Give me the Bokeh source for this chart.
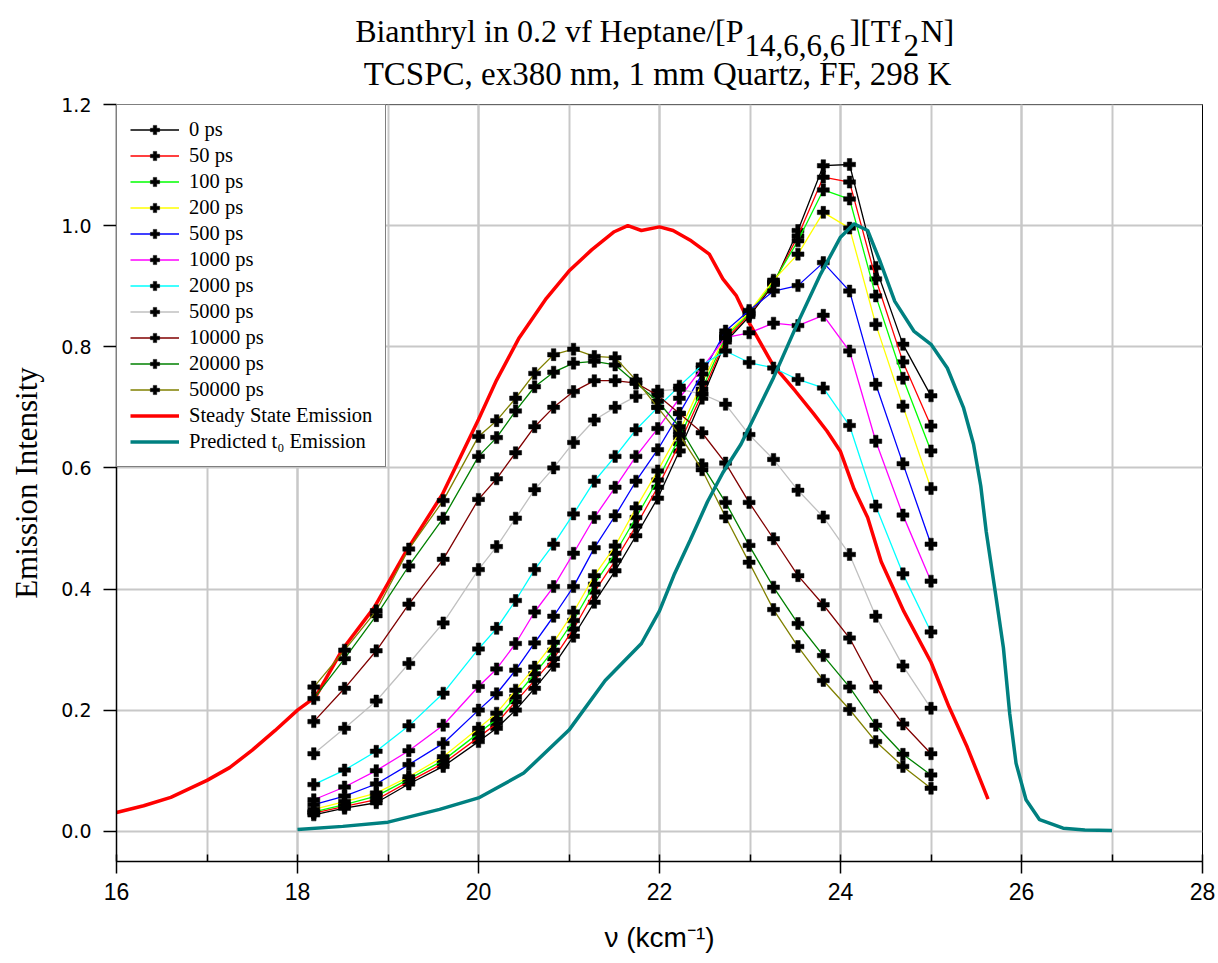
from bokeh.plotting import figure
from bokeh.layouts import column
from bokeh.models import (Range1d, SingleIntervalTicker, PrintfTickFormatter,
                          Legend, LegendItem)
from bokeh.core.properties import value
from bokeh.embed import file_html
from bokeh.resources import INLINE

# ---------------- data ----------------
wavenumber = [18.18, 18.52, 18.87, 19.23, 19.61, 20.00, 20.20, 20.41, 20.62, 20.83,
              21.05, 21.28, 21.51, 21.74, 21.98, 22.22, 22.47, 22.73, 22.99, 23.26,
              23.53, 23.81, 24.10, 24.39, 24.69, 25.00]

em_0 = [0.027, 0.038, 0.047, 0.078, 0.107, 0.148, 0.170, 0.200, 0.236, 0.274,
        0.322, 0.378, 0.430, 0.488, 0.550, 0.628, 0.715, 0.808, 0.850, 0.903,
        0.992, 1.099, 1.101, 0.931, 0.804, 0.719]
em_50 = [0.030, 0.041, 0.052, 0.082, 0.112, 0.155, 0.178, 0.214, 0.249, 0.285,
         0.334, 0.395, 0.447, 0.504, 0.568, 0.640, 0.722, 0.812, 0.853, 0.905,
         0.983, 1.080, 1.072, 0.912, 0.775, 0.669]
em_100 = [0.032, 0.044, 0.058, 0.086, 0.117, 0.162, 0.185, 0.222, 0.260, 0.299,
          0.348, 0.408, 0.459, 0.518, 0.580, 0.650, 0.730, 0.817, 0.855, 0.907,
          0.975, 1.059, 1.044, 0.884, 0.748, 0.628]
em_200 = [0.036, 0.049, 0.063, 0.090, 0.123, 0.170, 0.195, 0.233, 0.271, 0.312,
          0.362, 0.422, 0.471, 0.534, 0.595, 0.660, 0.740, 0.820, 0.857, 0.910,
          0.953, 1.022, 0.996, 0.837, 0.702, 0.566]
em_500 = [0.044, 0.058, 0.078, 0.110, 0.145, 0.200, 0.227, 0.266, 0.311, 0.355,
          0.404, 0.468, 0.521, 0.578, 0.630, 0.690, 0.755, 0.826, 0.860, 0.892,
          0.901, 0.939, 0.892, 0.738, 0.607, 0.474]
em_1000 = [0.052, 0.073, 0.100, 0.133, 0.175, 0.239, 0.268, 0.310, 0.362, 0.404,
           0.459, 0.518, 0.568, 0.619, 0.665, 0.715, 0.765, 0.815, 0.823, 0.839,
           0.835, 0.852, 0.793, 0.644, 0.522, 0.413]
em_2000 = [0.077, 0.101, 0.132, 0.174, 0.228, 0.301, 0.335, 0.381, 0.432, 0.474,
           0.524, 0.578, 0.619, 0.663, 0.700, 0.735, 0.770, 0.793, 0.774, 0.765,
           0.746, 0.732, 0.670, 0.537, 0.425, 0.329]
em_5000 = [0.128, 0.170, 0.215, 0.277, 0.344, 0.432, 0.470, 0.517, 0.564, 0.600,
           0.642, 0.679, 0.700, 0.718, 0.727, 0.730, 0.722, 0.705, 0.655, 0.614,
           0.563, 0.519, 0.457, 0.355, 0.273, 0.203]
em_10000 = [0.181, 0.236, 0.298, 0.375, 0.449, 0.548, 0.582, 0.625, 0.668, 0.700,
            0.726, 0.744, 0.744, 0.740, 0.720, 0.690, 0.658, 0.608, 0.543, 0.483,
            0.422, 0.374, 0.319, 0.238, 0.177, 0.128]
em_20000 = [0.219, 0.285, 0.356, 0.438, 0.517, 0.619, 0.650, 0.694, 0.734, 0.758,
            0.773, 0.776, 0.770, 0.740, 0.710, 0.668, 0.605, 0.543, 0.472, 0.403,
            0.343, 0.290, 0.238, 0.175, 0.127, 0.093]
em_50000 = [0.238, 0.299, 0.364, 0.466, 0.546, 0.652, 0.678, 0.715, 0.756, 0.787,
            0.796, 0.784, 0.782, 0.745, 0.700, 0.655, 0.597, 0.519, 0.444, 0.366,
            0.305, 0.249, 0.201, 0.148, 0.107, 0.071]

series_labels = ["0 ps", "50 ps", "100 ps", "200 ps", "500 ps", "1000 ps", "2000 ps",
                 "5000 ps", "10000 ps", "20000 ps", "50000 ps"]
series_values = [em_0, em_50, em_100, em_200, em_500, em_1000, em_2000, em_5000,
                 em_10000, em_20000, em_50000]
series_colors = ["#000000", "#ff0000", "#00ff00", "#ffff00", "#0000ff", "#ff00ff",
                 "#00ffff", "#c0c0c0", "#800000", "#008000", "#808000"]

steady_x = [16.0, 16.3, 16.6, 17.0, 17.25, 17.5, 17.75, 18.0, 18.2, 18.5, 18.85,
            19.2, 19.6, 19.8, 20.0, 20.2, 20.45, 20.75, 21.0, 21.25, 21.5, 21.65,
            21.8, 22.0, 22.15, 22.35, 22.55, 22.7, 22.85, 23.0, 23.25, 23.5, 23.7,
            23.85, 24.0, 24.15, 24.3, 24.45, 24.7, 25.0, 25.2, 25.4, 25.63]
steady_y = [0.031, 0.042, 0.056, 0.084, 0.105, 0.134, 0.166, 0.200, 0.222, 0.301,
            0.370, 0.462, 0.556, 0.618, 0.680, 0.745, 0.815, 0.880, 0.925, 0.960,
            0.990, 1.000, 0.992, 0.998, 0.992, 0.975, 0.953, 0.912, 0.884, 0.837,
            0.771, 0.727, 0.690, 0.661, 0.627, 0.565, 0.518, 0.445, 0.363, 0.279,
            0.205, 0.139, 0.053]

predicted_x = [18.0, 18.5, 19.0, 19.57, 20.0, 20.5, 21.0, 21.4, 21.8, 22.0, 22.16,
               22.34, 22.53, 22.7, 22.9, 23.1, 23.26, 23.52, 23.78, 24.0, 24.15,
               24.3, 24.44, 24.6, 24.81, 25.0, 25.18, 25.36, 25.47, 25.55, 25.61,
               25.72, 25.8, 25.87, 25.94, 26.05, 26.2, 26.46, 26.7, 27.0]
predicted_y = [0.003, 0.008, 0.015, 0.036, 0.055, 0.096, 0.167, 0.249, 0.310, 0.364,
               0.423, 0.481, 0.544, 0.592, 0.639, 0.700, 0.749, 0.837, 0.920, 0.981,
               1.003, 0.992, 0.940, 0.875, 0.826, 0.804, 0.765, 0.699, 0.639, 0.570,
               0.495, 0.385, 0.303, 0.194, 0.112, 0.052, 0.019, 0.005, 0.002, 0.001]

steady_label = "Steady State Emission"
predicted_label = "Predicted t\u2080 Emission"

title1_main = "Bianthryl in 0.2 vf Heptane/[P"
title1_sub1 = "14,6,6,6"
title1_mid = "][Tf"
title1_sub2 = "2"
title1_end = "N]"
title2 = "TCSPC, ex380 nm, 1 mm Quartz, FF, 298 K"
x_label = "\u03bd (kcm\u207b\u00b9)"
y_label = "Emission Intensity"

# ---------------- layout constants ----------------
W = 1218
TH = 93                      # height of the title strip
FL, FR, FT, FB = 116, 1202, 104, 861   # frame edges in page pixels

# ---------------- title strip (its own figure; its frame is aligned with the main frame) ----------------
pt = figure(width=W, height=TH, output_backend="svg", toolbar_location=None,
            title=None, x_range=Range1d(FL, FR), y_range=Range1d(TH, 0),
            x_axis_location=None, y_axis_location=None,
            min_border_left=FL, min_border_right=W - FR,
            min_border_top=0, min_border_bottom=0, outline_line_color=None)
pt.grid.visible = False
pt.background_fill_color = "white"
pt.border_fill_color = "white"
serif = value("Liberation Serif")


def tpiece(text, x, ymid, size, align):
    pt.text(x=[x], y=[ymid], text=[text], text_font=serif,
            text_font_size=value(size), text_align=align,
            text_baseline="alphabetic", text_color="black")


tpiece(title1_main, 743, 30, "32px", "right")
tpiece(title1_sub1, 744, 45, "31px", "left")
tpiece(title1_mid, 849, 30, "32px", "left")
tpiece(title1_sub2, 903, 45, "31px", "left")
tpiece(title1_end, 920, 30, "32px", "left")
tpiece(title2, 657, 73, "33px", "center")

# ---------------- main figure ----------------
p = figure(width=W, height=963 - TH, output_backend="svg", toolbar_location=None,
           x_range=Range1d(16, 28), y_range=Range1d(-0.05, 1.2001),
           min_border_left=FL, min_border_right=W - FR,
           min_border_top=FT - TH, min_border_bottom=963 - FB)
p.background_fill_color = "white"
p.border_fill_color = "white"
p.outline_line_color = "black"
p.outline_line_width = 1

xt = SingleIntervalTicker(interval=2, num_minor_ticks=2)
yt = SingleIntervalTicker(interval=0.2, num_minor_ticks=0)
p.xaxis.ticker = xt
p.yaxis.ticker = yt
p.xgrid.ticker = xt
p.ygrid.ticker = yt
p.yaxis.formatter = PrintfTickFormatter(format="%.1f")

grid_col = "#c8c8c8"
p.xgrid.grid_line_color = grid_col
p.xgrid.minor_grid_line_color = grid_col
p.ygrid.grid_line_color = grid_col
p.xgrid.grid_line_width = 2
p.xgrid.minor_grid_line_width = 2
p.ygrid.grid_line_width = 2

for ax in (p.xaxis, p.yaxis):
    ax.axis_line_color = "black"
    ax.axis_line_width = 1.5
    ax.major_tick_line_color = "black"
    ax.major_tick_line_width = 1.5
    ax.major_label_text_color = "black"
    ax.axis_label_text_color = "black"
    ax.axis_label_text_font_style = "normal"

p.xaxis.major_tick_out = 12
p.xaxis.major_tick_in = 0
p.xaxis.minor_tick_in = 7
p.xaxis.minor_tick_out = 0
p.xaxis.minor_tick_line_color = "black"
p.xaxis.minor_tick_line_width = 1.5
p.xaxis.major_label_standoff = 9
p.xaxis.major_label_text_font = "Liberation Sans"
p.xaxis.major_label_text_font_size = "23px"
p.xaxis.axis_label = x_label
p.xaxis.axis_label_text_font = "Liberation Sans"
p.xaxis.axis_label_text_font_size = "28px"
p.xaxis.axis_label_standoff = 19

p.yaxis.major_tick_out = 13
p.yaxis.major_tick_in = 0
p.yaxis.minor_tick_line_color = None
p.yaxis.major_label_standoff = 12
p.yaxis.major_label_text_font = "DejaVu Sans"
p.yaxis.major_label_text_font_size = "19px"
p.yaxis.axis_label = y_label
p.yaxis.axis_label_text_font = "Liberation Serif"
p.yaxis.axis_label_text_font_size = "31px"
p.yaxis.axis_label_standoff = 14

# ---------------- glyphs ----------------
items = []
r_steady = p.line(steady_x, steady_y, line_color="#ff0000", line_width=3.5)
for lab, vals, col in zip(series_labels, series_values, series_colors):
    rl = p.line(wavenumber, vals, line_color=col, line_width=1.3)
    rm = p.scatter(wavenumber, vals, marker="plus", size=12, fill_color="black",
                   line_color="black", line_width=0.5)
    items.append(LegendItem(label=lab, renderers=[rl, rm]))
r_pred = p.line(predicted_x, predicted_y, line_color="#008080", line_width=3.5)
items.append(LegendItem(label=steady_label, renderers=[r_steady]))
items.append(LegendItem(label=predicted_label, renderers=[r_pred]))

legend = Legend(items=items, location="top_left", margin=0, padding=13, spacing=3,
                label_height=23, glyph_height=23, glyph_width=49, label_standoff=10,
                label_text_font="Liberation Serif", label_text_font_size="20.5px",
                label_text_color="black", border_line_color="black",
                border_line_width=1.5, background_fill_color="white",
                background_fill_alpha=1.0)
p.add_layout(legend, "center")

page = column(pt, p, spacing=0)
open("out.html", "w").write(file_html(page, INLINE))
